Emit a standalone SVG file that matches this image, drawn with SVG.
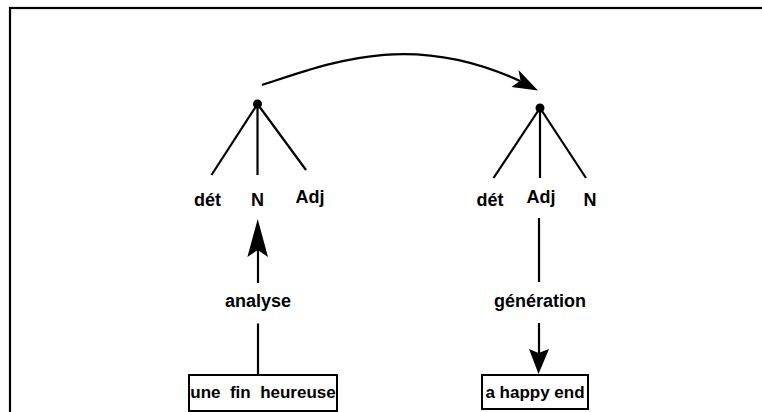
<svg xmlns="http://www.w3.org/2000/svg" width="762" height="412" viewBox="0 0 762 412">
<style>
.ln{stroke:#000;stroke-width:2.2;fill:none}
.lb{font-family:"Liberation Sans",Arial,sans-serif;font-weight:bold;font-size:18px;fill:#000;text-anchor:middle}
.bt{font-size:17px}
.bx{fill:#fff;stroke:#000;stroke-width:2}
.ah{fill:#000;stroke:none}
</style>
<rect x="0" y="0" width="762" height="412" fill="#fff"/>
<rect x="10" y="8" width="770" height="430" fill="none" stroke="#000" stroke-width="2.2"/>
<g id="tree-left">
<circle cx="257.5" cy="104" r="4.5" fill="#000"/>
<line class="ln" x1="257.5" y1="104" x2="211.5" y2="175"/>
<line class="ln" x1="257.5" y1="104" x2="257.5" y2="175"/>
<line class="ln" x1="257.5" y1="104" x2="306" y2="170"/>
<text class="lb" x="207.5" y="205.5">dét</text>
<text class="lb" x="257.5" y="205.5">N</text>
<text class="lb" x="310" y="202.5">Adj</text>
</g>
<g id="tree-right">
<circle cx="540" cy="108" r="4.5" fill="#000"/>
<line class="ln" x1="540" y1="108" x2="493.5" y2="178"/>
<line class="ln" x1="540" y1="108" x2="540" y2="178"/>
<line class="ln" x1="540" y1="108" x2="586" y2="178"/>
<text class="lb" x="490" y="205.5">dét</text>
<text class="lb" x="541" y="202.5">Adj</text>
<text class="lb" x="590" y="205.5">N</text>
</g>
<g id="source">
<rect class="bx" x="189" y="375" width="148" height="36"/>
<text class="lb bt" x="263" y="398" xml:space="preserve" style="white-space:pre">une  fin  heureuse</text>
</g>
<g id="target">
<rect class="bx" x="482" y="375" width="106" height="34"/>
<text class="lb bt" x="535" y="398">a happy end</text>
</g>
<g id="connectors">
<path class="ln" d="M262,85 C330,63 410,30 520,81"/>
<path class="ah" d="M538,90.5 L518.5,70 L520.5,80.5 L511.5,87 Z"/>
<line class="ln" x1="258" y1="375" x2="258" y2="323.5"/>
<line class="ln" x1="258" y1="283" x2="258" y2="248"/>
<path class="ah" d="M257.7,219 L268,257 L257.7,250 L247.4,257 Z"/>
<text class="lb" x="258" y="306.5">analyse</text>
<line class="ln" x1="539" y1="218" x2="539" y2="282"/>
<line class="ln" x1="539" y1="323" x2="539" y2="355"/>
<path class="ah" d="M538.5,374 L549,349 L538.5,353 L529,349 Z"/>
<text class="lb" x="540" y="306.5">génération</text>
</g>
</svg>
